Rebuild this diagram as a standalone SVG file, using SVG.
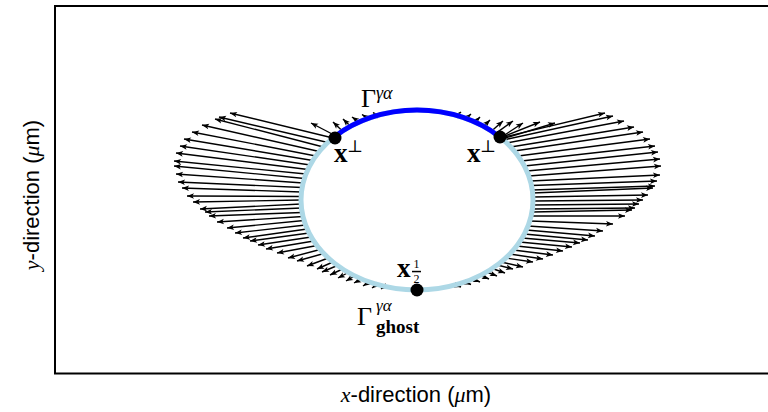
<svg xmlns="http://www.w3.org/2000/svg" width="768" height="412" viewBox="0 0 768 412">
<defs>
<marker id="ah" viewBox="-8 -4 9 8" refX="0" refY="0" markerWidth="9" markerHeight="8" markerUnits="userSpaceOnUse" orient="auto">
<path d="M0,0 L-7,-2.8 L-5.3,0 L-7,2.8 Z" fill="#000"/>
</marker>
</defs>
<style>
.q line{stroke:#000;stroke-width:1.4;marker-end:url(#ah)}
.lbl{font-family:"Liberation Serif","DejaVu Serif",serif;fill:#000}
.ax{font-family:"Liberation Sans",Arial,sans-serif;font-size:22px;fill:#000}
.it{font-family:"Liberation Serif",serif;font-style:italic}
</style>
<rect width="768" height="412" fill="#fff"/>
<g id="frame"><rect x="55" y="6" width="720" height="367.5" fill="none" stroke="#000" stroke-width="2"/></g>
<g id="connectors" class="q">
<line x1="333" y1="138" x2="230" y2="113"/>
<line x1="327.8" y1="142.5" x2="219" y2="117"/>
<line x1="323.3" y1="147" x2="215" y2="119"/>
<line x1="319.2" y1="151.5" x2="202" y2="125"/>
<line x1="315.8" y1="156" x2="192" y2="132"/>
<line x1="312.8" y1="160.5" x2="184" y2="139"/>
<line x1="310.2" y1="165" x2="180" y2="146"/>
<line x1="307.9" y1="169.5" x2="176" y2="153"/>
<line x1="305.9" y1="174" x2="174" y2="161"/>
<line x1="304.4" y1="178.5" x2="174" y2="166"/>
<line x1="303.1" y1="183" x2="176" y2="174"/>
<line x1="302.1" y1="187.5" x2="178" y2="182"/>
<line x1="301.5" y1="192" x2="182" y2="188"/>
<line x1="301.1" y1="196.5" x2="187" y2="196"/>
<line x1="301" y1="200" x2="193" y2="202"/>
<line x1="301.1" y1="204" x2="200" y2="209"/>
<line x1="301.5" y1="208" x2="205" y2="212"/>
<line x1="302.1" y1="212.5" x2="209" y2="216"/>
<line x1="303" y1="216.5" x2="217" y2="222"/>
<line x1="304" y1="220.5" x2="227" y2="228"/>
<line x1="305.5" y1="225" x2="235" y2="233"/>
<line x1="307.2" y1="229" x2="243" y2="238"/>
<line x1="309.1" y1="233" x2="250" y2="241"/>
<line x1="311.2" y1="237" x2="258" y2="245"/>
<line x1="313.8" y1="241" x2="266" y2="249"/>
<line x1="317" y1="245.5" x2="277" y2="253"/>
<line x1="320.1" y1="249.5" x2="288" y2="258"/>
<line x1="323.7" y1="253.5" x2="297" y2="261"/>
<line x1="328.3" y1="258" x2="307" y2="266"/>
<line x1="332.9" y1="262" x2="317" y2="269"/>
<line x1="337.4" y1="265.5" x2="322" y2="272"/>
<line x1="342.5" y1="269" x2="330" y2="275"/>
<line x1="348.2" y1="272.5" x2="338" y2="278"/>
<line x1="354.8" y1="276" x2="346" y2="281"/>
<line x1="361.4" y1="279" x2="354" y2="283"/>
<line x1="369.2" y1="282" x2="363" y2="286"/>
<line x1="377.1" y1="284.5" x2="372" y2="288"/>
<line x1="385" y1="286.5" x2="381" y2="289"/>
<line x1="336" y1="136" x2="311" y2="123"/>
<line x1="342.4" y1="131" x2="333" y2="122"/>
<line x1="350.5" y1="126.3" x2="343" y2="119"/>
<line x1="359" y1="122" x2="352" y2="117"/>
<line x1="368" y1="118.4" x2="362" y2="114.5"/>
<line x1="377.3" y1="115.4" x2="373" y2="112.5"/>
<line x1="500" y1="138" x2="605" y2="113"/>
<line x1="503.5" y1="140" x2="613" y2="116"/>
<line x1="506.8" y1="143" x2="624" y2="121"/>
<line x1="510.7" y1="147" x2="634" y2="127"/>
<line x1="514.3" y1="151" x2="643" y2="132"/>
<line x1="518.2" y1="156" x2="650" y2="139"/>
<line x1="521.5" y1="161" x2="655" y2="146"/>
<line x1="524.4" y1="166" x2="658" y2="152"/>
<line x1="526.8" y1="171" x2="660" y2="159"/>
<line x1="528.8" y1="176" x2="661" y2="166"/>
<line x1="530.4" y1="181" x2="660" y2="175"/>
<line x1="531.5" y1="185.5" x2="657" y2="181"/>
<line x1="532.3" y1="190" x2="655" y2="186"/>
<line x1="532.6" y1="193" x2="653" y2="188"/>
<line x1="533" y1="197" x2="648" y2="195"/>
<line x1="533" y1="201" x2="643" y2="200"/>
<line x1="532.8" y1="205" x2="639" y2="204"/>
<line x1="532.4" y1="209" x2="635" y2="208"/>
<line x1="532" y1="212" x2="632" y2="210"/>
<line x1="531.1" y1="216" x2="625" y2="216"/>
<line x1="529.8" y1="221" x2="613" y2="224"/>
<line x1="528.1" y1="226" x2="603" y2="231"/>
<line x1="526.4" y1="230" x2="595" y2="236"/>
<line x1="524.4" y1="234" x2="588" y2="240"/>
<line x1="522.2" y1="238" x2="580" y2="243"/>
<line x1="519.6" y1="242" x2="572" y2="247"/>
<line x1="516.8" y1="246" x2="563" y2="251"/>
<line x1="513.4" y1="250" x2="553" y2="255"/>
<line x1="509.8" y1="254" x2="543" y2="259"/>
<line x1="505.7" y1="258" x2="533" y2="262"/>
<line x1="501.1" y1="262" x2="523" y2="267"/>
<line x1="497.3" y1="265" x2="513" y2="269"/>
<line x1="492.3" y1="268.5" x2="505" y2="273"/>
<line x1="486.6" y1="272" x2="497" y2="276"/>
<line x1="480.1" y1="275.5" x2="489" y2="279"/>
<line x1="472.6" y1="279" x2="480" y2="282"/>
<line x1="464.8" y1="282" x2="471" y2="284.5"/>
<line x1="455.1" y1="285" x2="461" y2="287"/>
<line x1="491.6" y1="131" x2="503" y2="121"/>
<line x1="495.4" y1="133.6" x2="513" y2="121"/>
<line x1="500" y1="138" x2="523" y2="123"/>
<line x1="500" y1="138" x2="540" y2="122"/>
<line x1="502" y1="139" x2="555" y2="123"/>
<line x1="483.6" y1="126.3" x2="490" y2="120"/>
<line x1="475" y1="122" x2="480" y2="117"/>
<line x1="466" y1="118.4" x2="471" y2="114"/>
<line x1="456.7" y1="115.4" x2="461" y2="112"/>
</g>
<g id="interface"><ellipse cx="417" cy="200" rx="116" ry="90" fill="none" stroke="#add8e6" stroke-width="5"/></g>
<g id="gamma-arc"><path d="M335,136.4 A116,90 0 0 1 499,136.4" fill="none" stroke="#0000ff" stroke-width="5"/></g>
<g id="pt-left"><circle cx="335" cy="138" r="6.5" fill="#000"/></g>
<g id="pt-right"><circle cx="500" cy="137" r="6.5" fill="#000"/></g>
<g id="pt-bottom"><circle cx="417" cy="290" r="6.5" fill="#000"/></g>
<g id="label-gamma" class="lbl"><text x="361" y="107" font-size="26">Γ</text><text x="376" y="99" font-size="18" font-style="italic">γα</text></g>
<g id="label-xperp-left" class="lbl"><text x="334" y="162" font-size="27" font-weight="bold">x</text><text x="347" y="152" font-size="17">⊥</text></g>
<g id="label-xperp-right" class="lbl"><text x="467" y="162" font-size="27" font-weight="bold">x</text><text x="480" y="152" font-size="17">⊥</text></g>
<g id="label-xhalf" class="lbl"><text x="397" y="277" font-size="27" font-weight="bold">x</text><text x="416.5" y="268" font-size="12" text-anchor="middle">1</text><rect x="412" y="270.8" width="9" height="1.5" fill="#000"/><text x="416.5" y="283" font-size="12" text-anchor="middle">2</text></g>
<g id="label-gamma-ghost" class="lbl"><text x="357" y="325" font-size="26">Γ</text><text x="376" y="311" font-size="17" font-style="italic">γα</text><text x="376" y="333" font-size="19" font-weight="bold">ghost</text></g>
<g id="axis-labels">
<text class="ax" x="416" y="402" text-anchor="middle"><tspan class="it">x</tspan>-direction (<tspan class="it">μ</tspan>m)</text>
<text class="ax" transform="translate(39,195) rotate(-90)" text-anchor="middle"><tspan class="it">y</tspan>-direction (<tspan class="it">μ</tspan>m)</text>
</g>
</svg>
